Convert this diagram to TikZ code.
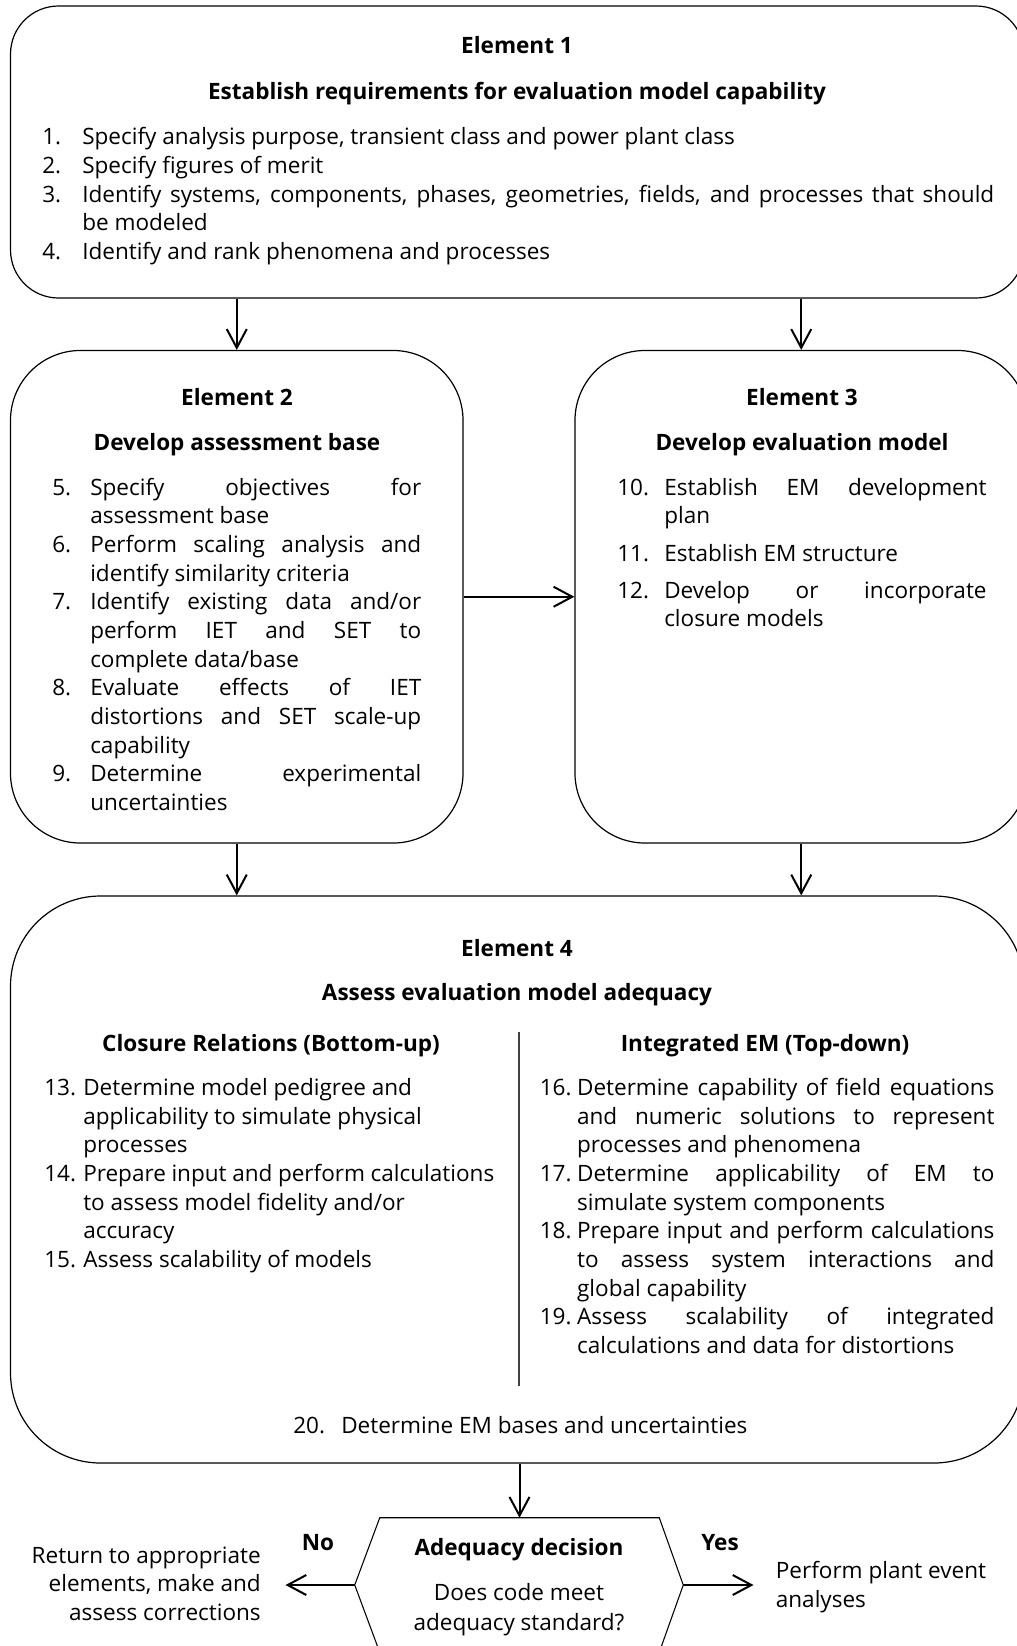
\documentclass[tikz,border=0pt]{standalone}
\usepackage{fontspec}
\setmainfont{Open Sans}
\usetikzlibrary{arrows.meta}
\newlength{\lblw}
\newcommand{\fsz}{\fontsize{16.9pt}{21.48pt}\selectfont}
\newcommand{\strt}{\vrule height 15pt depth 6.48pt width 0pt}
\newcommand{\jline}[2]{\hbox to \hsize{\strt\makebox[\lblw][l]{#1}#2}}
\newcommand{\rline}[2]{\hbox to \hsize{\strt\makebox[\lblw][l]{#1}#2\hfil}}
\newcommand{\rrline}[1]{\hbox to \hsize{\hfil\strt #1}}
\newcommand{\blk}[3]{\vbox{\hsize=#1\relax\lblw=#2\relax\baselineskip=21.48pt\lineskip=0pt\lineskiplimit=0pt #3}}
\begin{document}
\begin{tikzpicture}[x=0.75pt,y=-0.75pt,
  every node/.style={font=\fsz, inner sep=0pt},
  elem/.style={draw, line width=0.9pt, rounded corners=#1, inner sep=0pt},
  arr/.style={-{Straight Barb[length=14pt,width=15pt]}, line width=1.5pt},
  hd/.style={anchor=base, font=\fsz\bfseries},
  blkn/.style={anchor=north west}]
\useasboundingbox (0,0) rectangle (1017,1646);
\fill[white] (0,0) rectangle (1017,1646);
\clip (0,0) rectangle (1017,1646);

% ---- Element boxes
\node[elem=36pt, minimum width=760.1pt, minimum height=219pt] (e1) at (517.25,152) {};
\node[elem=52.5pt, minimum width=339.4pt, minimum height=369.4pt] (e2) at (236.75,596.75) {};
\node[elem=52.5pt, minimum width=339.4pt, minimum height=369.4pt] (e3) at (801.25,596.75) {};
\node[elem=67.5pt, minimum width=760.1pt, minimum height=425.25pt] (e4) at (517.25,1179.5) {};

% ---- Element 1
\node[hd] (e1a) at (517,53.5) {Element 1};
\node[hd] (e1b) at (517,99) {Establish requirements for evaluation model capability};
\node[blkn] (e1t) at (42,124.5) {\blk{714pt}{30pt}{%
 \rline{1.}{Specify analysis purpose, transient class and power plant class}
 \rline{2.}{Specify figures of merit}
 \jline{3.}{Identify systems, components, phases, geometries, fields, and processes that should}
 \rline{}{be modeled}
 \rline{4.}{Identify and rank phenomena and processes}}};

% ---- Element 2
\node[hd] (e2a) at (237,405.5) {Element 2};
\node[hd] (e2b) at (237,450.5) {Develop assessment base};
\node[blkn] (e2t) at (52,475) {\blk{276.75pt}{28.5pt}{%
 \jline{5.}{Specify objectives for}
 \rline{}{assessment base}
 \jline{6.}{Perform scaling analysis and}
 \rline{}{identify similarity criteria}
 \jline{7.}{Identify existing data and/or}
 \jline{}{perform IET and SET to}
 \rline{}{complete data/base}
 \jline{8.}{Evaluate effects of IET}
 \jline{}{distortions and SET scale-up}
 \rline{}{capability}
 \jline{9.}{Determine experimental}
 \rline{}{uncertainties}}};

% ---- Element 3
\node[hd] (e3a) at (802,405.5) {Element 3};
\node[hd] (e3b) at (802,450.5) {Develop evaluation model};
\node[blkn] (e3t) at (617,475) {\blk{277pt}{35.25pt}{%
 \jline{10.}{Establish EM development}
 \rline{}{plan}
 \vskip 6.4pt
 \rline{11.}{Establish EM structure}
 \vskip 6.4pt
 \jline{12.}{Develop or incorporate}
 \rline{}{closure models}}};

% ---- Element 4
\node[hd] (e4a) at (517,956.5) {Element 4};
\node[hd] (e4b) at (517,1000.5) {Assess evaluation model adequacy};
\node[hd] (c1) at (271,1051) {Closure Relations (Bottom-up)};
\node[hd] (c2) at (765,1051) {Integrated EM (Top-down)};
\draw[line width=0.8pt, black!75] (519,1032) -- (519,1386);
\node[blkn] (e4l) at (44,1075.3) {\blk{337.5pt}{29.25pt}{%
 \rline{13.}{Determine model pedigree and}
 \rline{}{applicability to simulate physical}
 \rline{}{processes}
 \rline{14.}{Prepare input and perform calculations}
 \rline{}{to assess model fidelity and/or}
 \rline{}{accuracy}
 \rline{15.}{Assess scalability of models}}};
\node[blkn] (e4r) at (539.5,1075.3) {\blk{341pt}{28pt}{%
 \jline{16.}{Determine capability of field equations}
 \jline{}{and numeric solutions to represent}
 \rline{}{processes and phenomena}
 \jline{17.}{Determine applicability of EM to}
 \rline{}{simulate system components}
 \jline{18.}{Prepare input and perform calculations}
 \jline{}{to assess system interactions and}
 \rline{}{global capability}
 \jline{19.}{Assess scalability of integrated}
 \rline{}{calculations and data for distortions}}};
\node[anchor=base west] (e4z) at (293,1433) {\makebox[36pt][l]{20.}Determine EM bases and uncertainties};

% ---- Decision
\node[minimum width=209.25pt, minimum height=100.5pt] (dec) at (519.5,1585) {};
\coordinate (lv) at ([xshift=-18.75pt]dec.west);
\coordinate (rv) at ([xshift=18pt]dec.east);
\draw[line width=0.8pt] (dec.north west) -- (dec.north east) -- (rv) -- (dec.south east) -- (dec.south west) -- (lv) -- cycle;
\node[hd] (dq1) at (519,1555.5) {Adequacy decision};
\node[anchor=base] (dq2) at (519,1600.5) {Does code meet};
\node[anchor=base] (dq3) at (519,1630) {adequacy standard?};
\node[hd] (no) at (318,1550.5) {No};
\node[hd] (yes) at (720,1550.5) {Yes};
\node[anchor=north east] (ret) at (261,1543) {\blk{180pt}{0pt}{%
 \rrline{Return to appropriate}
 \rrline{elements, make and}
 \rrline{assess corrections}}};
\node[anchor=north west] (perf) at (775.6,1558.5) {\blk{200pt}{0pt}{%
 \rline{}{Perform plant event}
 \rline{}{analyses}}};
\coordinate (lt) at (285.5,1585);
\coordinate (rt) at (753.5,1585);

% ---- Connectors
\draw[arr] (e2.north |- e1.south) -- (e2.north);
\draw[arr] (e3.north |- e1.south) -- (e3.north);
\draw[arr] (e2.east) -- (e3.west);
\draw[arr] (e2.south) -- (e2.south |- e4.north);
\draw[arr] (e3.south) -- (e3.south |- e4.north);
\draw[arr] (dec.north |- e4.south) -- (dec.north);
\draw[arr] (lv) -- (lt);
\draw[arr] (rv) -- (rt);
\end{tikzpicture}
\end{document}
